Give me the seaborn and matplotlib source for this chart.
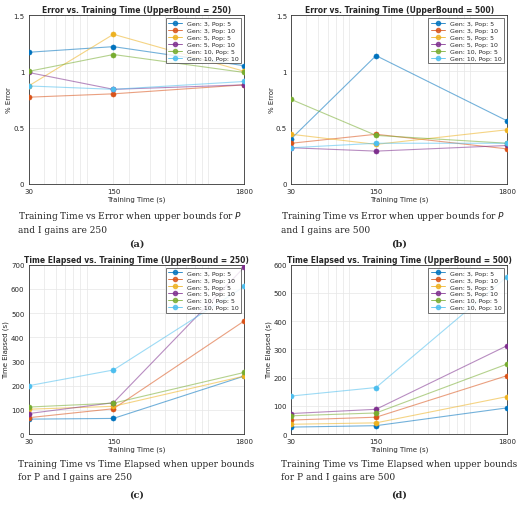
import numpy as np
import pandas as pd
import seaborn as sns
import matplotlib.pyplot as plt
from matplotlib.ticker import FixedLocator, NullFormatter
from matplotlib.lines import Line2D

sns.set_style("whitegrid")
plt.rcParams['font.family'] = ['DejaVu Sans']

train_time = [30, 150, 1800]
labels = ['Gen: 3, Pop: 5', 'Gen: 3, Pop: 10', 'Gen: 5, Pop: 5',
          'Gen: 5, Pop: 10', 'Gen: 10, Pop: 5', 'Gen: 10, Pop: 10']
colors = ['#0072BD', '#D95319', '#EDB120', '#7E2F8E', '#77AC30', '#4DBEEE']

err_250 = [[1.17, 1.22, 1.05], [0.77, 0.80, 0.88], [0.87, 1.33, 1.00],
           [0.99, 0.84, 0.88], [1.00, 1.15, 0.99], [0.87, 0.84, 0.91]]
err_500 = [[0.40, 1.14, 0.56], [0.36, 0.44, 0.31], [0.44, 0.35, 0.48],
           [0.32, 0.29, 0.34], [0.75, 0.43, 0.36], [0.32, 0.36, 0.36]]
time_250 = [[62, 65, 240], [68, 105, 468], [103, 115, 240],
            [85, 130, 690], [112, 128, 255], [200, 265, 610]]
time_500 = [[25, 30, 93], [50, 60, 207], [35, 40, 133],
            [73, 88, 313], [65, 75, 248], [135, 165, 557]]

panels = [
    (err_250, 'Error vs. Training Time (UpperBound = 250)', '% Error', [0, 1.5], [0, 0.5, 1, 1.5], ['0', '0.5', '1', '1.5'],
     'Training Time vs Error when upper bounds for $P$\nand I gains are 250', '(a)'),
    (err_500, 'Error vs. Training Time (UpperBound = 500)', '% Error', [0, 1.5], [0, 0.5, 1, 1.5], ['0', '0.5', '1', '1.5'],
     'Training Time vs Error when upper bounds for $P$\nand I gains are 500', '(b)'),
    (time_250, 'Time Elapsed vs. Training Time (UpperBound = 250)', 'Time Elapsed (s)', [0, 700], list(range(0, 701, 100)), None,
     'Training Time vs Time Elapsed when upper bounds\nfor P and I gains are 250', '(c)'),
    (time_500, 'Time Elapsed vs. Training Time (UpperBound = 500)', 'Time Elapsed (s)', [0, 600], list(range(0, 601, 100)), None,
     'Training Time vs Time Elapsed when upper bounds\nfor P and I gains are 500', '(d)'),
]

fig = plt.figure(figsize=(5.2, 5.06), dpi=100)
rects = [[0.055, 0.635, 0.415, 0.333], [0.56, 0.635, 0.415, 0.333],
         [0.055, 0.14, 0.415, 0.335], [0.56, 0.14, 0.415, 0.335]]

for rect, (vals, title, ylabel, ylim, yt, ytl, caption, tag) in zip(rects, panels):
    ax = fig.add_axes(rect)
    rows = []
    for lab, v in zip(labels, vals):
        for t, y in zip(train_time, v):
            rows.append({'t': t, 'y': y, 'series': lab})
    df = pd.DataFrame(rows)
    for lab, c in zip(labels, colors):
        d = df[df.series == lab]
        sns.lineplot(data=d, x='t', y='y', ax=ax, color=c, lw=0.8, alpha=0.55, legend=False)
        sns.scatterplot(data=d, x='t', y='y', ax=ax, color=c, s=14, edgecolor=c, zorder=3, legend=False)
    ax.set_xscale('log')
    ax.set_xlim(30, 1800)
    ax.xaxis.set_major_locator(FixedLocator(train_time))
    ax.set_xticklabels(['30', '150', '1800'])
    ax.xaxis.set_minor_formatter(NullFormatter())
    ax.set_ylim(*ylim)
    ax.set_yticks(yt)
    if ytl:
        ax.set_yticklabels(ytl)
    ax.tick_params(labelsize=5, pad=1, length=2)
    ax.grid(True, which='both', color='#e6e6e6', lw=0.5)
    for s in ax.spines.values():
        s.set_color('#333333'); s.set_linewidth(0.6)
    ax.set_title(title, fontsize=5.5, fontweight='bold', pad=2)
    ax.set_xlabel('Training Time (s)', fontsize=5, labelpad=1)
    ax.set_ylabel(ylabel, fontsize=5, labelpad=1)
    handles = [Line2D([], [], color=c, marker='o', ms=3, lw=0.7, alpha=0.8) for c in colors]
    leg = ax.legend(handles, labels, loc='upper right', fontsize=4.5, frameon=True,
                    fancybox=False, edgecolor='#333333', borderpad=0.4, labelspacing=0.25,
                    handlelength=2.2)
    leg.get_frame().set_linewidth(0.6)
    x0 = rect[0] - 0.02
    fig.text(x0, rect[1] - 0.05, caption, fontsize=6.5, family='DejaVu Serif', va='top', linespacing=1.5)
    fig.text(rect[0] + rect[2] / 2, rect[1] - 0.118, tag, fontsize=7, fontweight='bold',
             family='DejaVu Serif', ha='center', va='center')

fig.savefig('out.png', dpi=100)
